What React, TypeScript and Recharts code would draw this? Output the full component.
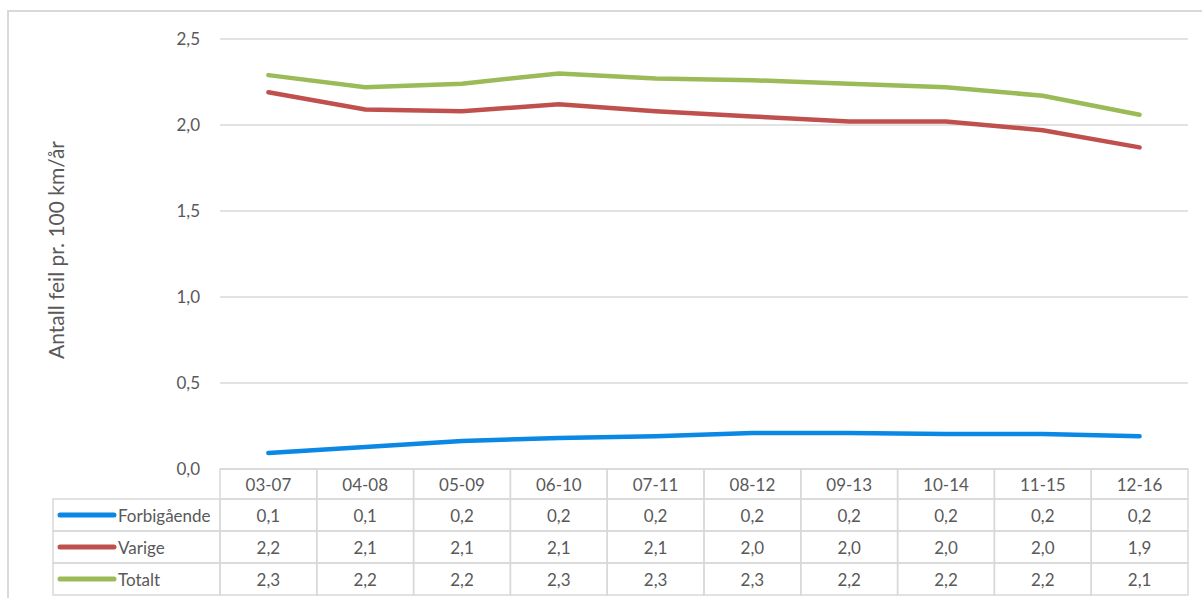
import React from 'react';
import { LineChart, Line, XAxis, YAxis, CartesianGrid } from 'recharts';

const periods = ['03-07', '04-08', '05-09', '06-10', '07-11', '08-12', '09-13', '10-14', '11-15', '12-16'];
const forbigaende = [0.093, 0.128, 0.163, 0.18, 0.19, 0.21, 0.21, 0.203, 0.203, 0.19];
const varige = [2.19, 2.09, 2.08, 2.12, 2.08, 2.05, 2.02, 2.02, 1.97, 1.87];
const totalt = [2.29, 2.22, 2.24, 2.30, 2.27, 2.26, 2.24, 2.22, 2.17, 2.06];
const yTicks = [0, 0.5, 1, 1.5, 2, 2.5];

const series = [
  { key: 'forbigaende', name: 'Forbigående', color: '#0a88e4', values: forbigaende },
  { key: 'varige', name: 'Varige', color: '#c0504d', values: varige },
  { key: 'totalt', name: 'Totalt', color: '#9bbb59', values: totalt },
];

const data = periods.map((p, i) => ({
  period: p,
  forbigaende: forbigaende[i],
  varige: varige[i],
  totalt: totalt[i],
}));

const FONT = 'Lato, "Open Sans", sans-serif';
const TEXT = '#595959';
const BORDER = '#d9d9d9';

const W = 1202;
const H = 598;
const PLOT_LEFT = 220;
const PLOT_RIGHT = 1188;
const COL_W = (PLOT_RIGHT - PLOT_LEFT) / periods.length;
const HEAD_H = 30;
const ROW_H = 32;
const LEGEND_W = 167;

const fmt = (v: number) => v.toFixed(1).replace('.', ',');

// draws one column of the data table under each category tick
const TableTick = (props: any) => {
  const { x, y, payload, index } = props;
  const left = x - COL_W / 2;
  const cells = [];
  cells.push(
    <g key="h">
      <rect x={left} y={y} width={COL_W} height={HEAD_H} fill="none" stroke={BORDER} strokeWidth={1.5} />
      <text x={x} y={y + HEAD_H / 2} textAnchor="middle" dominantBaseline="central" fontSize={17} fill={TEXT} fontFamily={FONT}>
        {payload.value}
      </text>
    </g>
  );
  series.forEach((s, r) => {
    const top = y + HEAD_H + r * ROW_H;
    cells.push(
      <g key={s.key}>
        <rect x={left} y={top} width={COL_W} height={ROW_H} fill="none" stroke={BORDER} strokeWidth={1.5} />
        <text x={x} y={top + ROW_H / 2} textAnchor="middle" dominantBaseline="central" fontSize={17} fill={TEXT} fontFamily={FONT}>
          {fmt(s.values[index])}
        </text>
      </g>
    );
  });
  if (index === 0) {
    series.forEach((s, r) => {
      const top = y + HEAD_H + r * ROW_H;
      const lx = left - LEGEND_W;
      cells.push(
        <g key={'lg-' + s.key}>
          <rect x={lx} y={top} width={LEGEND_W} height={ROW_H} fill="none" stroke={BORDER} strokeWidth={1.5} />
          <line x1={lx + 7} x2={lx + 61} y1={top + ROW_H / 2} y2={top + ROW_H / 2} stroke={s.color} strokeWidth={5} strokeLinecap="round" />
          <text x={lx + 65} y={top + ROW_H / 2} dominantBaseline="central" fontSize={17} fill={TEXT} fontFamily={FONT}>
            {s.name}
          </text>
        </g>
      );
    });
  }
  return <g>{cells}</g>;
};

export default function App() {
  return (
    <div style={{ position: 'absolute', left: 0, top: 0, width: W, height: H, background: '#fff', overflow: 'hidden' }}>
      <div style={{ position: 'absolute', left: 7, top: 10, width: W, height: H, border: `2px solid ${BORDER}`, boxSizing: 'border-box' }} />
      <LineChart width={W} height={H} data={data} margin={{ top: 39, right: W - PLOT_RIGHT, left: 0, bottom: 4 }}>
        <CartesianGrid vertical={false} stroke={BORDER} strokeWidth={1.5} />
        <XAxis
          dataKey="period"
          axisLine={false}
          tickLine={false}
          tickSize={0}
          tickMargin={0}
          height={125}
          interval={0}
          padding={{ left: COL_W / 2, right: COL_W / 2 }}
          tick={<TableTick />}
        />
        <YAxis
          width={PLOT_LEFT}
          domain={[0, 2.5]}
          ticks={yTicks}
          axisLine={false}
          tickLine={false}
          tickSize={0}
          tickMargin={20}
          tickFormatter={fmt}
          tick={{ fontSize: 17, fill: TEXT, fontFamily: FONT }}
          label={{
            value: 'Antall feil pr. 100 km/år',
            angle: -90,
            position: 'insideLeft',
            offset: 0,
            dx: 57,
            dy: -4,
            style: { fontSize: 21, fill: TEXT, fontFamily: FONT, textAnchor: 'middle' },
          }}
        />
        {series.map((s) => (
          <Line
            key={s.key}
            type="linear"
            dataKey={s.key}
            name={s.name}
            stroke={s.color}
            strokeWidth={4.5}
            strokeLinecap="round"
            dot={false}
            activeDot={false}
            isAnimationActive={false}
          />
        ))}
      </LineChart>
    </div>
  );
}
